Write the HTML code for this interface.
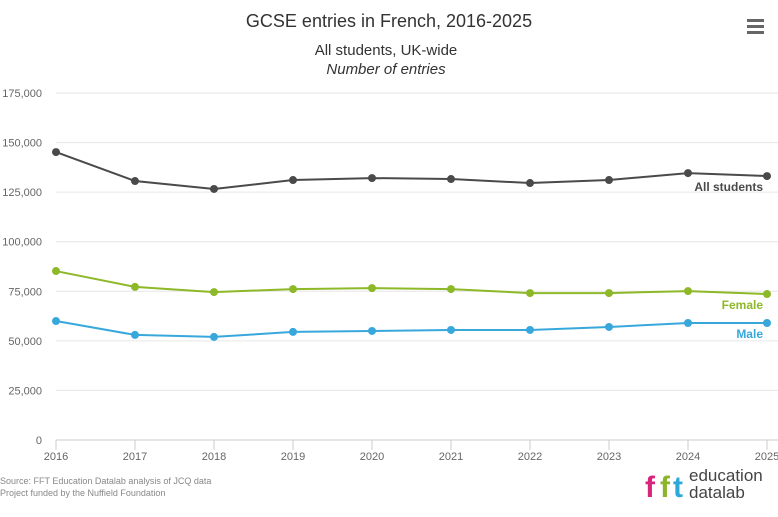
<!DOCTYPE html>
<html><head><meta charset="utf-8"><style>
body{margin:0;background:#fff;font-family:"Liberation Sans",sans-serif;}
svg text{font-family:"Liberation Sans",sans-serif;}
</style></head><body>
<svg id="c" width="778" height="512" xmlns="http://www.w3.org/2000/svg">
<text x="389" y="27" text-anchor="middle" font-size="18" fill="#333">GCSE entries in French, 2016-2025</text>
<text x="386" y="55" text-anchor="middle" font-size="15" fill="#333">All students, UK-wide</text>
<text x="386" y="74" text-anchor="middle" font-size="15" font-style="italic" fill="#333">Number of entries</text>
<g><rect x="747" y="19" width="17" height="3" fill="#666"/><rect x="747" y="25" width="17" height="3" fill="#666"/><rect x="747" y="31" width="17" height="3" fill="#666"/></g>
<g id="grid"></g><g id="series"></g>
<text x="0" y="484" font-size="9" fill="#888">Source: FFT Education Datalab analysis of JCQ data</text>
<text x="0" y="496" font-size="9" fill="#888">Project funded by the Nuffield Foundation</text>
<g>
<text x="645" y="497" font-size="30" font-weight="bold" fill="#d6257b">f</text>
<text x="660" y="497" font-size="30" font-weight="bold" fill="#8cb52a">f</text>
<text x="673" y="497" font-size="30" font-weight="bold" fill="#2ea8d8">t</text>
<text x="689" y="481" font-size="17" fill="#444">education</text>
<text x="689" y="498" font-size="17" fill="#444">datalab</text>
</g>
</svg>
<script>
const years=["2016","2017","2018","2019","2020","2021","2022","2023","2024","2025"];
const allStudents=[145200,130600,126600,131100,132100,131600,129600,131100,134600,133100];
const female=[85200,77200,74600,76100,76600,76100,74100,74100,75100,73600];
const male=[60000,53000,52000,54500,55000,55500,55500,57000,59000,59000];
const yTicks=[0,25000,50000,75000,100000,125000,150000,175000];
const NS="http://www.w3.org/2000/svg";
const x0=56,x1=767,yb=440,yt=93,ymax=175000;
const xs=i=>x0+(x1-x0)*i/(years.length-1);
const ys=v=>yb-(yb-yt)*v/ymax;
function mk(t,a,p){const e=document.createElementNS(NS,t);for(const k in a)e.setAttribute(k,a[k]);p.appendChild(e);return e;}
const g=document.getElementById('grid');
yTicks.forEach(v=>{
 const l=mk('line',{x1:56,x2:778,y1:ys(v),y2:ys(v),stroke:v===0?'#ccc':'#e6e6e6'},g);
 
 
 const t=mk('text',{x:42,y:ys(v)+4,'text-anchor':'end','font-size':11,fill:'#666'},g);
 t.textContent=v.toLocaleString('en-GB');
 
 
});
years.forEach((y,i)=>{
 const tk=mk('line',{x1:xs(i),x2:xs(i),y1:440,y2:450,stroke:'#ccc'},g);
 
 
 const t=mk('text',{x:xs(i),y:460,'text-anchor':'middle','font-size':11,fill:'#666'},g);
 t.textContent=y;
 
 
});
const s=document.getElementById('series');
[[allStudents,'#4a4a4a','All students','series-all-students'],[female,'#8db828','Female','series-female'],[male,'#38a8dc','Male','series-male']].forEach(([d,c,lab,nm])=>{
 const grp=mk('g',{},s);
 
 
 const p=mk('path',{d:d.map((v,i)=>(i?'L':'M')+xs(i)+' '+ys(v)).join(''),stroke:c,'stroke-width':2,fill:'none'},grp);
 
 
 d.forEach((v,i)=>{
  const m=mk('circle',{cx:xs(i),cy:ys(v),r:4,fill:c},grp);
  
  
 });
 const t=mk('text',{x:763,y:ys(d[d.length-1])+15,'text-anchor':'end','font-size':12,'font-weight':'bold',fill:c},grp);
 t.textContent=lab;
 
 
});
</script>
</body></html>
